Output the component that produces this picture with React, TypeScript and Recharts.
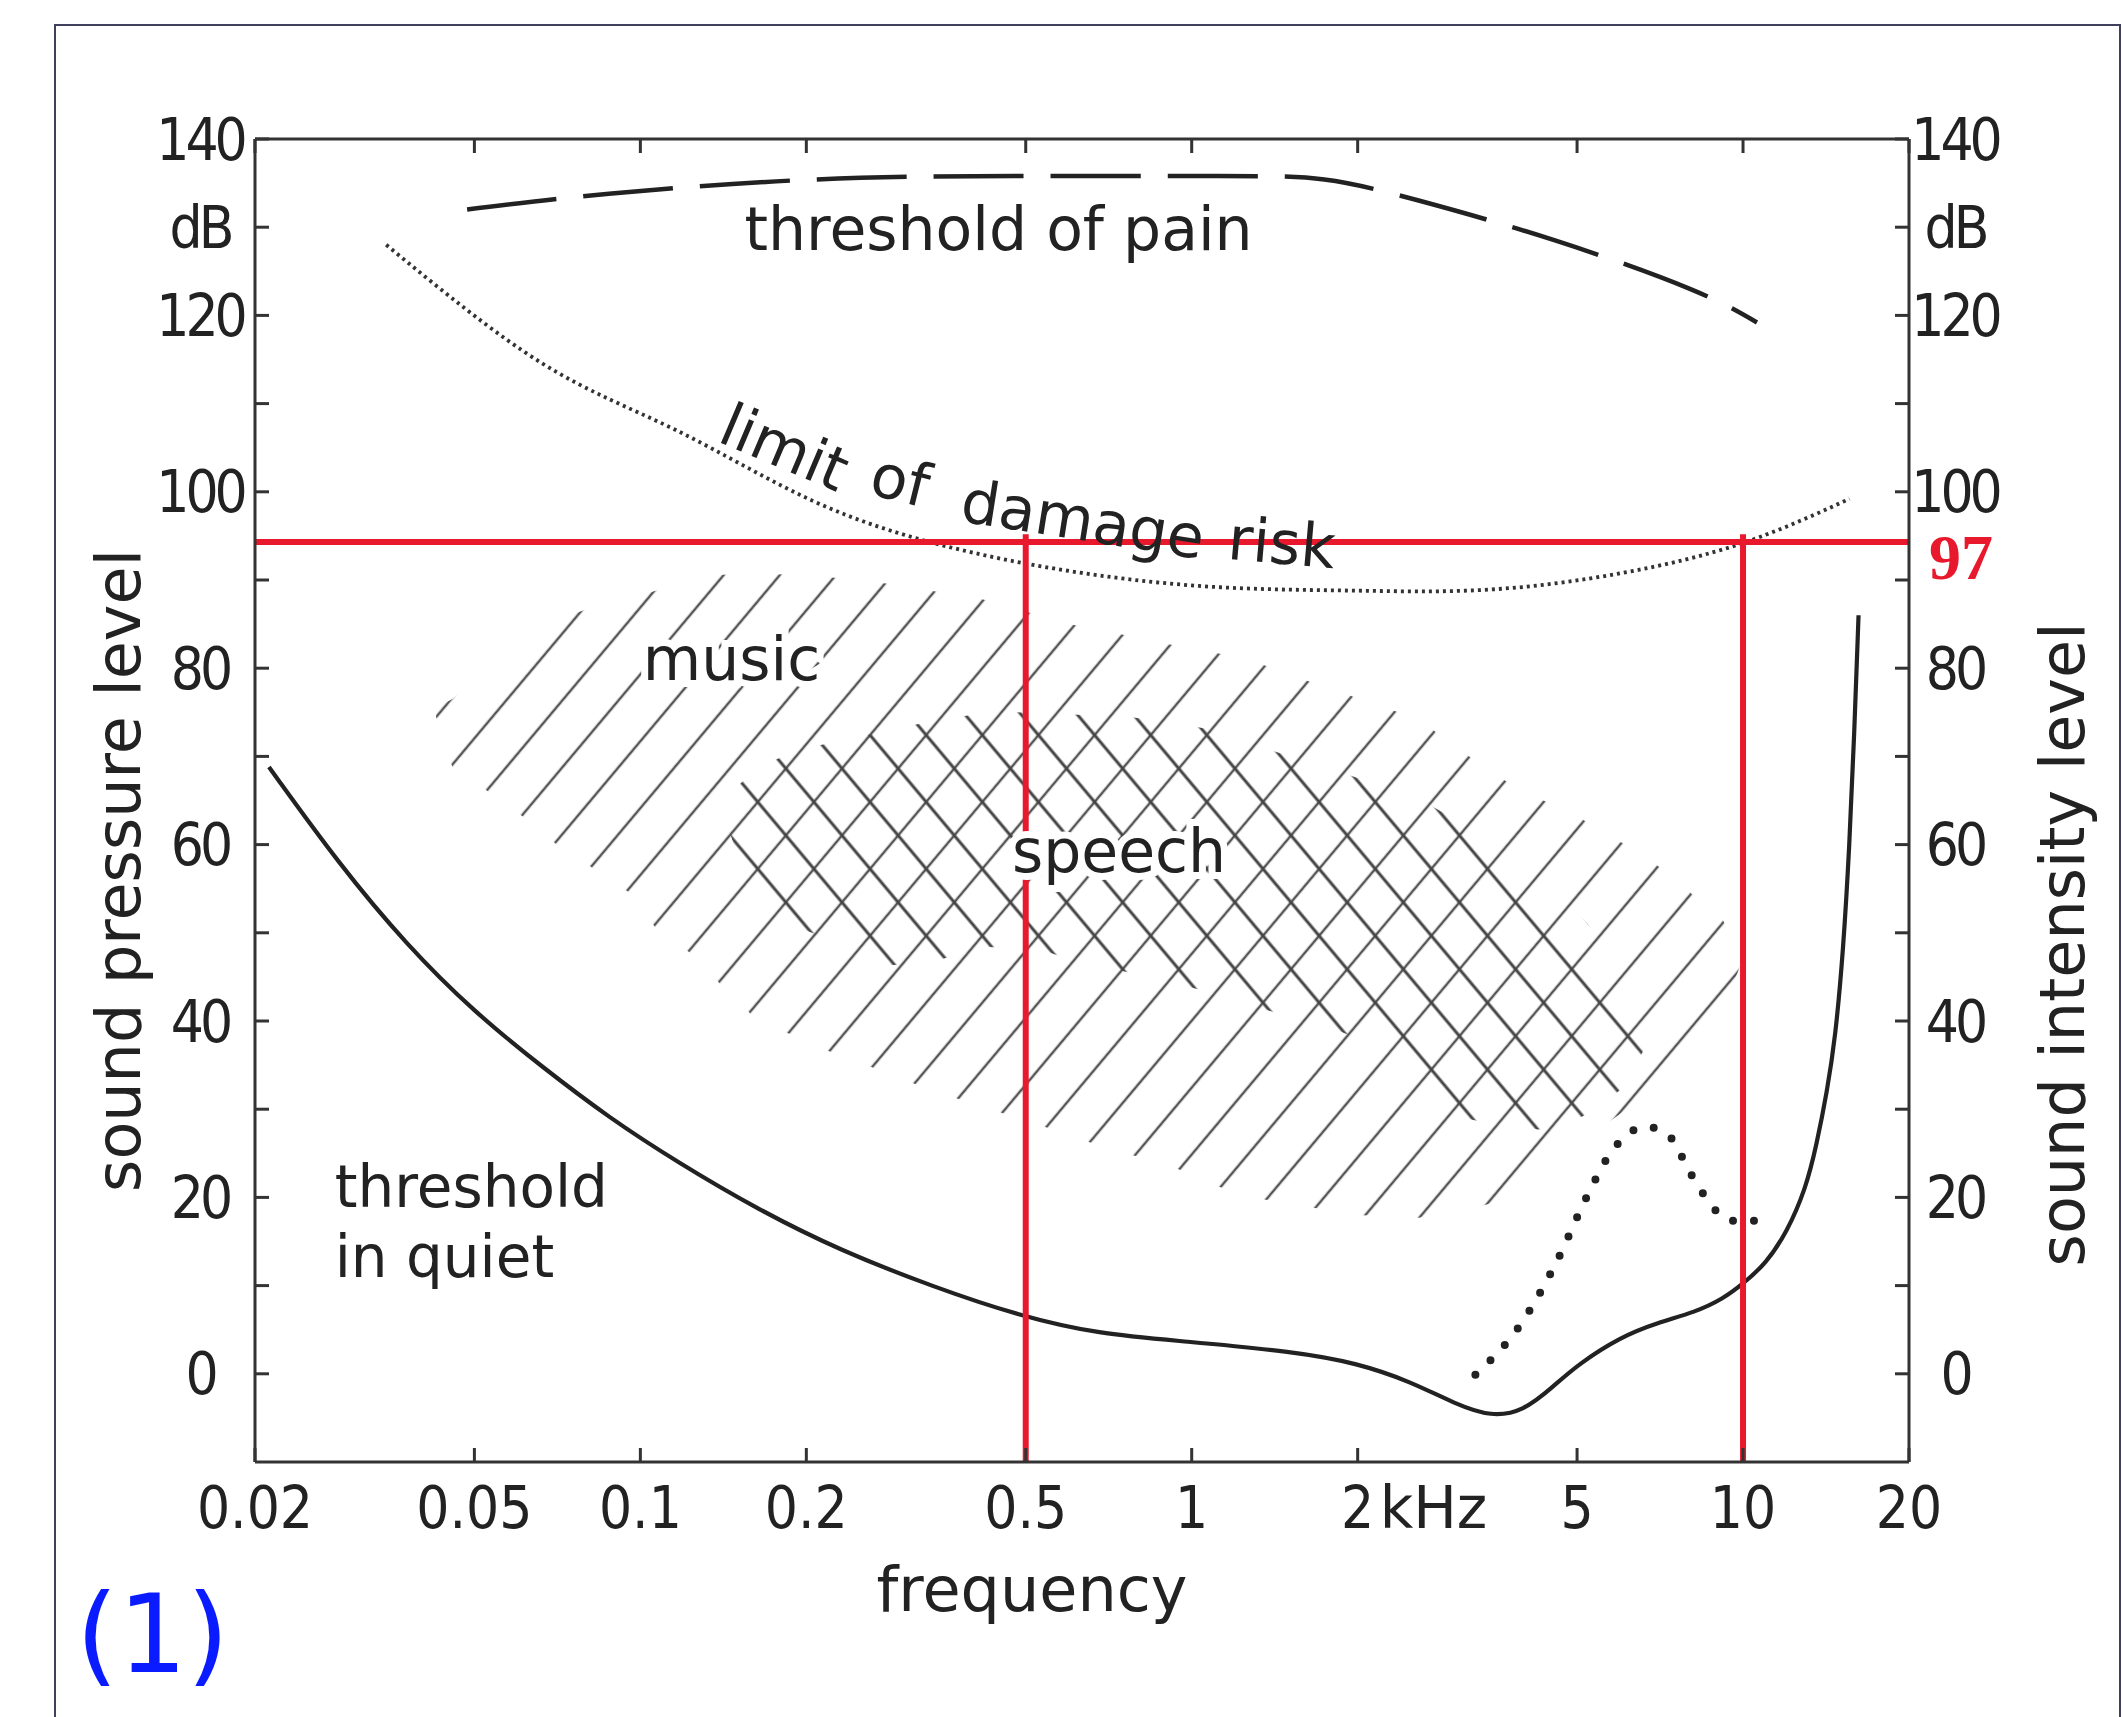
import { ComposedChart, Line, Area, XAxis, YAxis, ReferenceLine, ReferenceDot, Label } from "recharts"

// axes: frequency in kHz (log), level in dB
const freqTicks = [0.02, 0.05, 0.1, 0.2, 0.5, 1, 2, 5, 10, 20]
const levelTicks = [0, 10, 20, 30, 40, 50, 60, 70, 80, 90, 100, 110, 120, 130, 140]

// threshold in quiet
const quietFreq = [0.0212, 0.0284, 0.0377, 0.05, 0.0663, 0.0879, 0.1167, 0.1637, 0.23, 0.3416, 0.485, 0.678, 0.966, 1.54, 2.0, 2.5, 3.0, 3.5, 4.0, 4.5, 5.0, 6.0, 7.0, 8.2, 9.2, 10.0, 11.0, 12.0, 13.0, 13.6, 14.2, 14.7, 15.2, 15.6, 15.9, 16.2]
const quietLevel = [68.8, 57.8, 48.6, 41.0, 34.8, 29.0, 24.0, 18.6, 14.0, 9.8, 6.6, 4.5, 3.7, 2.5, 1.2, -0.9, -3.4, -4.9, -4.2, -1.6, 1.0, 4.2, 5.8, 7.0, 8.5, 10.2, 12.5, 16, 21, 26, 32, 38, 48, 60, 72, 86]

// threshold of pain (dashed)
const painFreq = [0.0485, 0.0877, 0.205, 0.477, 1.11, 1.74, 2.59, 4.56, 8.01, 10.6]
const painLevel = [132, 133.8, 135.4, 135.8, 135.8, 135.4, 133, 128.5, 123, 119.2]

// limit of damage risk (fine dots)
const damageFreq = [0.0346, 0.0662, 0.116, 0.205, 0.36, 0.632, 1.11, 1.95, 3.44, 6.04, 10.0, 15.6]
const damageLevel = [128, 114.6, 107, 99, 93.8, 90.8, 89.2, 88.8, 88.9, 90.8, 94.2, 99.2]

// heavy dotted curve
const maskFreq = [3.27, 3.97, 4.59, 5.21, 5.73, 6.67, 7.33, 8.07, 9.0, 9.74, 10.94]
const maskLevel = [-0.1, 5.8, 12.7, 20.1, 24.9, 28, 27, 22.5, 18.3, 17.3, 17.4]

// music area (single hatching)
const musicFreq = [0.0426, 0.0456, 0.0522, 0.0612, 0.0705, 0.0826, 0.0964, 0.107, 0.124, 0.141, 0.161, 0.193, 0.231, 0.279, 0.334, 0.408, 0.494, 0.599, 0.726, 0.89, 1.06, 1.29, 1.6, 2.0, 2.58, 3.01, 3.57, 4.1, 4.91, 5.81, 6.78, 7.84, 8.28, 9.1, 9.91]
const musicLow = [74.5, 68.8, 66.3, 63.2, 60.0, 57.2, 54.4, 50.4, 47.6, 43.9, 40.4, 38.1, 36.0, 34.2, 32.2, 30.5, 28.8, 27.1, 25.2, 24.0, 21.7, 20.0, 19.0, 18.0, 17.7, 18.2, 19.5, 22.2, 25.6, 28.9, 31.9, 34.7, 35.8, 40.3, 46.5]
const musicHigh = [75.5, 76.5, 79.5, 83.5, 85.5, 87.0, 88.0, 88.8, 90.2, 90.6, 90.7, 90.6, 90.2, 89.6, 88.8, 88.0, 86.5, 85.0, 84.0, 82.8, 82.0, 80.8, 78.7, 76.6, 74.2, 71.1, 67.8, 65.7, 63.5, 60.8, 58.3, 55.1, 53.8, 52.0, 47.4]

// speech area (cross hatching)
const speechFreq = [0.14, 0.151, 0.164, 0.174, 0.195, 0.22, 0.24, 0.275, 0.321, 0.341, 0.408, 0.429, 0.532, 0.574, 0.769, 1.028, 1.09, 1.377, 1.6, 1.845, 2.37, 2.576, 3.08, 3.45, 4.25, 4.42, 5.08, 5.23, 6.0, 6.18, 6.58]
const speechLow = [64.3, 58.3, 55.0, 52.1, 50.5, 49.3, 48.0, 46.3, 46.5, 46.7, 48.4, 48.4, 48.1, 47.4, 45.5, 43.6, 43.0, 41.2, 40.0, 38.9, 36.2, 34.0, 29.1, 28.4, 27.7, 27.8, 29.1, 29.5, 32.2, 33.5, 36.5]
const speechHigh = [64.9, 66.8, 68.6, 69.5, 70.8, 71.5, 72.0, 72.8, 73.7, 74.0, 74.8, 75.1, 74.9, 74.8, 74.5, 73.3, 73.0, 70.8, 69.5, 68.3, 66.0, 65.2, 62.5, 61.2, 57.0, 56.1, 51.8, 51.0, 45.0, 43.6, 37.1]

// red markers
const markLevel = 94.3
const markLabel = "97"
const markFreqs = [0.5, 10]

const ink = "#222"
const red = "#e8192c"
const numFont = "'Liberation Sans Narrow', 'DejaVu Sans Condensed', 'Liberation Sans', sans-serif"
const textFont = "'DejaVu Sans', sans-serif"

const toPoints = (xs: number[], ys: number[]) => xs.map((f, i) => ({ f, v: ys[i] }))
const toBand = (xs: number[], lo: number[], hi: number[]) => xs.map((f, i) => ({ f, band: [lo[i], hi[i]] }))

const levelLabel = (v: number) => (v === 130 ? "dB" : v % 20 === 0 ? String(v) : "")

// annotation anchors in data space (kHz, dB)
const notes = [
  { f: 0.1545, db: 127.4, text: "threshold of pain", size: 60 },
  { f: 0.101, db: 78.7, text: "music", size: 60, halo: true },
  { f: 0.472, db: 56.9, text: "speech", size: 60, halo: true },
  { f: 0.0279, db: 18.9, text: "threshold", size: 58 },
  { f: 0.0279, db: 11.0, text: "in quiet", size: 58 },
  { f: 0.137, db: 105.8, text: "limit", size: 60, angle: 23 },
  { f: 0.258, db: 99.8, text: "of", size: 60, angle: 14 },
  { f: 0.378, db: 96.7, text: "damage", size: 60, angle: 9 },
  { f: 1.157, db: 92.4, text: "risk", size: 60, angle: 5 },
]

function FreqTick(props: any) {
  const { x, y, payload } = props
  const v = payload.value
  if (v === 2) {
    return (
      <g>
        <text x={x} y={y} dy="0.71em" textAnchor="middle" fontSize={58} fontFamily={numFont} fill={ink}>2</text>
        <text x={x + 22} y={y} dy="0.71em" textAnchor="start" fontSize={58} fontFamily={textFont} fill={ink}>kHz</text>
      </g>
    )
  }
  return (
    <text x={x} y={y} dy="0.71em" textAnchor="middle" fontSize={58} fontFamily={numFont} fill={ink}>
      {String(v)}
    </text>
  )
}

const axisStyle = { stroke: "#333", strokeWidth: 3 }
const levelTickStyle = { fontSize: 58, fontFamily: numFont, fill: ink, letterSpacing: -4, textAnchor: "middle" }

export default function App() {
  return (
    <div style={{ position: "absolute", left: 0, top: 0, width: 2123, height: 1717, background: "#fff", overflow: "hidden" }}>
      <div style={{ position: "absolute", left: 54, top: 24, width: 2063, height: 1760, border: "2px solid #3f3f5e" }} />
      <div style={{ position: "absolute", left: 0, top: 0 }}>
        <ComposedChart width={2123} height={1717} margin={{ top: 129, right: 14, bottom: 95, left: 55 }}>
          <defs>
            <pattern id="hatchFwd" patternUnits="userSpaceOnUse" width="43" height="43" patternTransform="rotate(-50)">
              <line x1="0" y1="21" x2="43" y2="21" stroke="#555" strokeWidth="2.6" />
            </pattern>
            <pattern id="hatchBack" patternUnits="userSpaceOnUse" width="43" height="43" patternTransform="rotate(50)">
              <line x1="0" y1="21" x2="43" y2="21" stroke="#444" strokeWidth="2.8" />
            </pattern>
          </defs>
          <XAxis
            xAxisId="bottom"
            dataKey="f"
            type="number"
            scale="log"
            domain={[0.02, 20]}
            allowDataOverflow
            ticks={freqTicks}
            interval={0}
            height={160}
            tickSize={-14}
            tickMargin={39}
            axisLine={axisStyle}
            tickLine={axisStyle}
            tick={<FreqTick />}
          >
            <Label
              content={(p: any) => {
                const vb = p.viewBox
                return (
                  <text x={vb.x + vb.width / 2 - 50} y={vb.y + 149} textAnchor="middle" fontSize={62} fontFamily={textFont} fill={ink}>
                    frequency
                  </text>
                )
              }}
            />
          </XAxis>
          <XAxis
            xAxisId="top"
            orientation="top"
            dataKey="f"
            type="number"
            scale="log"
            domain={[0.02, 20]}
            allowDataOverflow
            ticks={freqTicks}
            interval={0}
            height={10}
            tickSize={-14}
            axisLine={axisStyle}
            tickLine={axisStyle}
            tickFormatter={() => ""}
          />
          <YAxis
            yAxisId="left"
            type="number"
            domain={[-10, 140]}
            allowDataOverflow
            ticks={levelTicks}
            interval={0}
            width={200}
            tickSize={-14}
            tickMargin={69}
            axisLine={axisStyle}
            tickLine={axisStyle}
            tickFormatter={levelLabel}
            tick={levelTickStyle}
          >
            <Label
              content={(p: any) => {
                const vb = p.viewBox
                const cx = vb.x + 63
                const cy = vb.y + vb.height / 2 + 70
                return (
                  <text x={cx} y={cy} transform={`rotate(-90 ${cx} ${cy})`} textAnchor="middle" dominantBaseline="central" fontSize={62} fontFamily={textFont} fill={ink}>
                    sound pressure level
                  </text>
                )
              }}
            />
          </YAxis>
          <YAxis
            yAxisId="right"
            orientation="right"
            type="number"
            domain={[-10, 140]}
            allowDataOverflow
            ticks={levelTicks}
            interval={0}
            width={200}
            tickSize={-14}
            tickMargin={60}
            axisLine={axisStyle}
            tickLine={axisStyle}
            tickFormatter={levelLabel}
            tick={levelTickStyle}
          >
            <Label
              content={(p: any) => {
                const vb = p.viewBox
                const cx = vb.x + 153
                const cy = vb.y + vb.height / 2 + 144
                return (
                  <text x={cx} y={cy} transform={`rotate(-90 ${cx} ${cy})`} textAnchor="middle" dominantBaseline="central" fontSize={62} fontFamily={textFont} fill={ink}>
                    sound intensity level
                  </text>
                )
              }}
            />
          </YAxis>

          <Area
            xAxisId="bottom"
            yAxisId="left"
            data={toBand(musicFreq, musicLow, musicHigh)}
            dataKey="band"
            type="linear"
            stroke="none"
            fill="url(#hatchFwd)"
            fillOpacity={1}
            isAnimationActive={false}
            activeDot={false}
          />
          <Area
            xAxisId="bottom"
            yAxisId="left"
            data={toBand(speechFreq, speechLow, speechHigh)}
            dataKey="band"
            type="linear"
            stroke="none"
            fill="url(#hatchBack)"
            fillOpacity={1}
            isAnimationActive={false}
            activeDot={false}
          />

          <Line xAxisId="bottom" yAxisId="left" data={toPoints(quietFreq, quietLevel)} dataKey="v" type="basis" stroke={ink} strokeWidth={4.2} dot={false} activeDot={false} isAnimationActive={false} />
          <Line xAxisId="bottom" yAxisId="left" data={toPoints(painFreq, painLevel)} dataKey="v" type="natural" stroke={ink} strokeWidth={4.5} strokeDasharray="90 27" dot={false} activeDot={false} isAnimationActive={false} />
          <Line xAxisId="bottom" yAxisId="left" data={toPoints(damageFreq, damageLevel)} dataKey="v" type="natural" stroke="#333" strokeWidth={3.8} strokeDasharray="3 4" dot={false} activeDot={false} isAnimationActive={false} />
          <Line xAxisId="bottom" yAxisId="left" data={toPoints(maskFreq, maskLevel)} dataKey="v" type="monotone" stroke={ink} strokeWidth={8} strokeLinecap="round" strokeDasharray="0 21" dot={false} activeDot={false} isAnimationActive={false} />

          {notes.map((n) => (
            <ReferenceDot
              key={n.text}
              xAxisId="bottom"
              yAxisId="left"
              x={n.f}
              y={n.db}
              r={0}
              ifOverflow="visible"
              shape={(p: any) => (
                <text
                  x={p.cx}
                  y={p.cy}
                  transform={n.angle ? `rotate(${n.angle} ${p.cx} ${p.cy})` : undefined}
                  fontSize={n.size}
                  fontFamily={textFont}
                  fill={ink}
                  stroke={n.halo ? "#fff" : "none"}
                  strokeWidth={n.halo ? 14 : 0}
                  paintOrder="stroke"
                >
                  {n.text}
                </text>
              )}
            />
          ))}

          <ReferenceLine xAxisId="bottom" yAxisId="left" y={markLevel} stroke={red} strokeWidth={6} ifOverflow="visible" />
          {markFreqs.map((f) => (
            <ReferenceLine
              key={f}
              xAxisId="bottom"
              yAxisId="left"
              segment={[{ x: f, y: -10 }, { x: f, y: markLevel + 0.9 }]}
              stroke={red}
              strokeWidth={6}
              ifOverflow="visible"
            />
          ))}
          <ReferenceDot
            xAxisId="bottom"
            yAxisId="left"
            x={20}
            y={markLevel}
            r={0}
            ifOverflow="visible"
            shape={(p: any) => (
              <text x={p.cx + 20} y={p.cy + 37} fontSize={64} fontWeight={700} fontFamily="'Liberation Serif', 'DejaVu Serif', serif" fill={red}>
                {markLabel}
              </text>
            )}
          />
        </ComposedChart>
      </div>
      <svg style={{ position: "absolute", left: 0, top: 0 }} width={400} height={1717}>
        <text x={76} y={1672} fontSize={108} fontFamily={textFont} fill="#0a1cff">(1)</text>
      </svg>
    </div>
  )
}
